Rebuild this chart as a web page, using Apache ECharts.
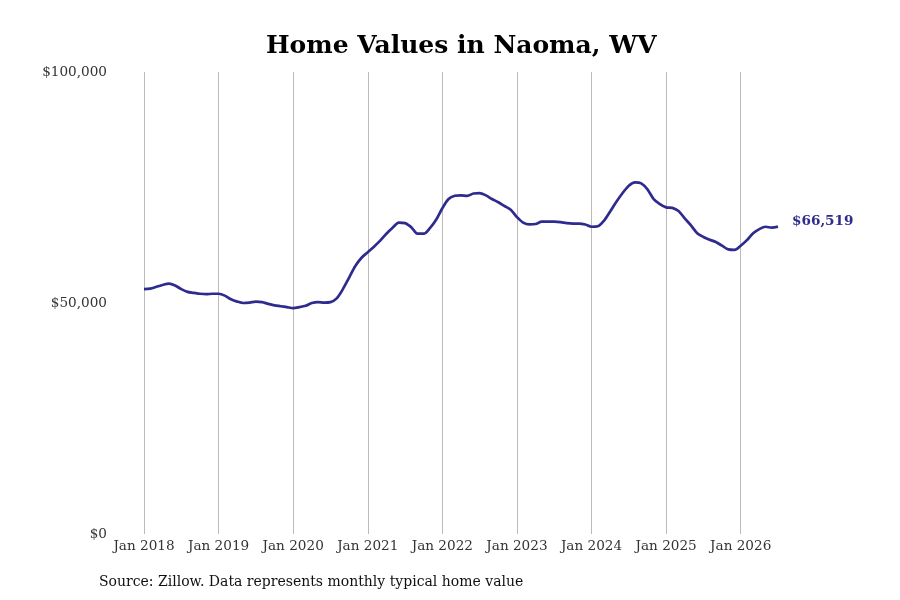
<!DOCTYPE html>
<html>
<head>
<meta charset="utf-8">
<script src="https://cdn.jsdelivr.net/npm/echarts@6/dist/echarts.min.js"></script>
<style>
  html, body { margin: 0; padding: 0; background: #fff; }
  #chart { width: 900px; height: 600px; }
</style>
</head>
<body>
<div id="chart"></div>
<script>
// monthly typical home value, Jan 2018 .. Jul 2026
const years = [2018, 2019, 2020, 2021, 2022, 2023, 2024, 2025, 2026];
const monthNames = ["Jan", "Feb", "Mar", "Apr", "May", "Jun", "Jul", "Aug", "Sep", "Oct", "Nov", "Dec"];
const values2018 = [53000, 53100, 53500, 53900, 54200, 53800, 53000, 52400, 52200, 52000, 51900, 52000];
const values2019 = [52000, 51600, 50800, 50300, 50000, 50100, 50300, 50200, 49800, 49500, 49300, 49100];
const values2020 = [48900, 49100, 49400, 50000, 50200, 50100, 50200, 51000, 53000, 55500, 58000, 59800];
const values2021 = [61000, 62200, 63500, 65000, 66300, 67400, 67300, 66400, 65000, 65000, 66200, 68000];
const values2022 = [70500, 72500, 73200, 73300, 73200, 73700, 73800, 73300, 72500, 71800, 71000, 70200];
const values2023 = [68600, 67400, 67000, 67100, 67600, 67600, 67600, 67500, 67300, 67200, 67200, 67000];
const values2024 = [66500, 66600, 67800, 69800, 71900, 73800, 75400, 76100, 75900, 74600, 72500, 71400];
const values2025 = [70700, 70600, 69900, 68300, 66800, 65100, 64300, 63700, 63200, 62400, 61600, 61500];
const values2026 = [62400, 63600, 65100, 66000, 66500, 66300, 66519];
const yTicks = [0, 50000, 100000];

const values = [].concat(values2018, values2019, values2020, values2021, values2022,
  values2023, values2024, values2025, values2026);
let months = [];
years.forEach(y => {
  monthNames.forEach(m => months.push(m + " " + y));
});
months = months.slice(0, values.length);

const fmt = v => "$" + v.toLocaleString("en-US");
const lineColor = "#2f2b8e";
const serif = "DejaVu Serif";

const myChart = echarts.init(document.getElementById("chart"));

const option = {
  backgroundColor: "#fff",
  animation: false,
  title: {
    text: "Home Values in Naoma, WV",
    top: 29,
    left: 261,
    textStyle: { fontFamily: serif, fontSize: 25, fontWeight: "bold", color: "#000" }
  },
  grid: { left: 144, right: 122, top: 72, bottom: 66 },
  xAxis: {
    type: "category",
    data: months,
    boundaryGap: false,
    axisLine: { show: false },
    axisTick: { show: false },
    axisLabel: {
      interval: (i, v) => v.startsWith("Jan"),
      margin: 5,
      color: "#333",
      fontFamily: serif,
      fontSize: 13.6
    },
    splitLine: {
      show: true,
      interval: (i, v) => v.startsWith("Jan"),
      lineStyle: { color: "#bbb", width: 1 }
    }
  },
  yAxis: {
    type: "value",
    min: yTicks[0],
    max: yTicks[yTicks.length - 1],
    interval: 50000,
    axisLine: { show: false },
    axisTick: { show: false },
    splitLine: { show: false },
    axisLabel: {
      formatter: v => fmt(v),
      margin: 37,
      color: "#333",
      fontFamily: serif,
      fontSize: 13.6
    }
  },
  graphic: [{
    type: "text",
    left: 99,
    top: 575,
    style: {
      text: "Source: Zillow. Data represents monthly typical home value",
      font: "14px 'DejaVu Serif'",
      fill: "#111"
    }
  }],
  series: [{
    type: "line",
    data: values,
    smooth: 0.3,
    symbol: "none",
    lineStyle: { color: lineColor, width: 2.7 },
    endLabel: {
      show: true,
      formatter: p => fmt(p.value),
      distance: 14,
      offset: [0, -5],
      color: lineColor,
      fontFamily: serif,
      fontWeight: "bold",
      fontSize: 13.6
    }
  }]
};

myChart.setOption(option);
</script>
</body>
</html>
